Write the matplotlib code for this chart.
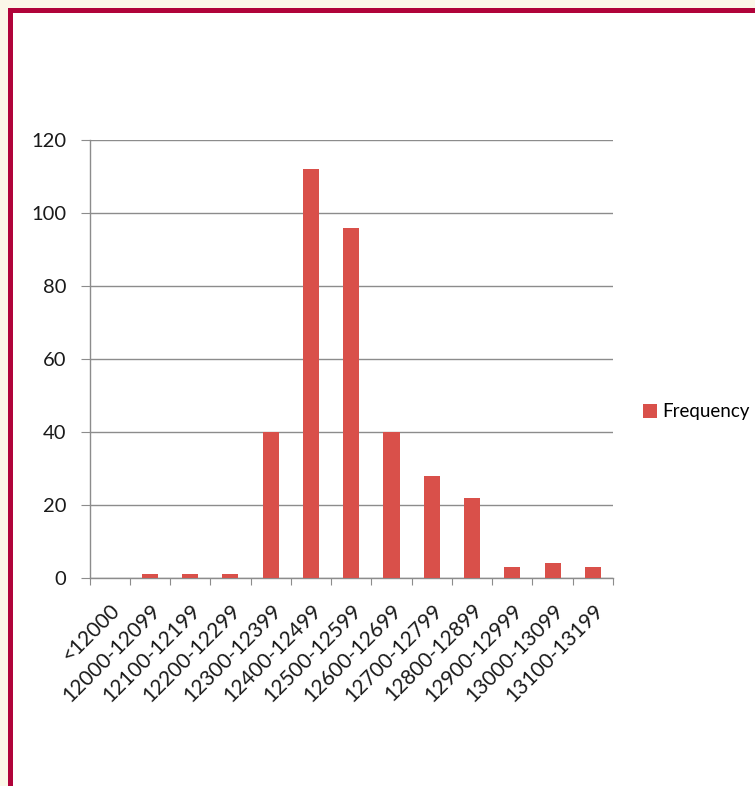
import matplotlib.pyplot as plt
from matplotlib.patches import Rectangle

categories = [
    "<12000", "12000-12099", "12100-12199", "12200-12299", "12300-12399",
    "12400-12499", "12500-12599", "12600-12699", "12700-12799",
    "12800-12899", "12900-12999", "13000-13099", "13100-13199",
]
frequency = [0, 1, 1, 1, 40, 112, 96, 40, 28, 22, 3, 4, 3]
y_ticks = [0, 20, 40, 60, 80, 100, 120]

W, H = 755, 786
BAR = "#d9504a"
GRID = "#8c8c8c"

plt.rcParams["font.family"] = ["Lato", "DejaVu Sans"]

fig = plt.figure(figsize=(W / 100, H / 100), dpi=100, facecolor="#fbf7e8")

# frame: crimson edge on top and left, white page inside
fig.patches.append(Rectangle((8 / W, 0), 1, 1 - 8 / H, transform=fig.transFigure,
                             facecolor="#b0033a", edgecolor="none", zorder=-2))
fig.patches.append(Rectangle((13 / W, 0), 1, 1 - 13 / H, transform=fig.transFigure,
                             facecolor="white", edgecolor="none", zorder=-1))

ax = fig.add_axes([89.5 / W, 1 - 578 / H, 523.5 / W, 438 / H])
ax.set_facecolor("none")

x = list(range(len(categories)))
ax.bar(x, frequency, width=0.4, color=BAR, label="Frequency", zorder=3)

ax.set_xlim(-0.5, len(categories) - 0.5)
ax.set_ylim(0, 120)
ax.set_yticks(y_ticks)
ax.grid(axis="y", color=GRID, linewidth=1)
ax.set_axisbelow(True)

for side in ["top", "right"]:
    ax.spines[side].set_visible(False)
for side in ["left", "bottom"]:
    ax.spines[side].set_color(GRID)
    ax.spines[side].set_linewidth(1)

ax.set_xticks([i - 0.5 for i in range(len(categories) + 1)], minor=False)
ax.set_xticklabels([""] * (len(categories) + 1))
ax.set_xticks(x, minor=True)
ax.set_xticklabels(categories, minor=True, rotation=45, ha="right",
                   rotation_mode="anchor", fontsize=15, color="#1a1a1a")
ax.tick_params(axis="x", which="major", length=5, color=GRID)
ax.tick_params(axis="x", which="minor", length=0, pad=16)
ax.tick_params(axis="y", length=6.5, color=GRID, labelsize=14.5,
               labelcolor="#1a1a1a", pad=10)

ax.legend(loc="center left", bbox_to_anchor=(643 / W, 1 - 412 / H),
          bbox_transform=fig.transFigure, frameon=False, fontsize=13.5,
          borderaxespad=0, borderpad=0,
          handlelength=0.75, handleheight=0.75, handletextpad=0.3)

fig.savefig("out.png", dpi=100, facecolor=fig.get_facecolor())
